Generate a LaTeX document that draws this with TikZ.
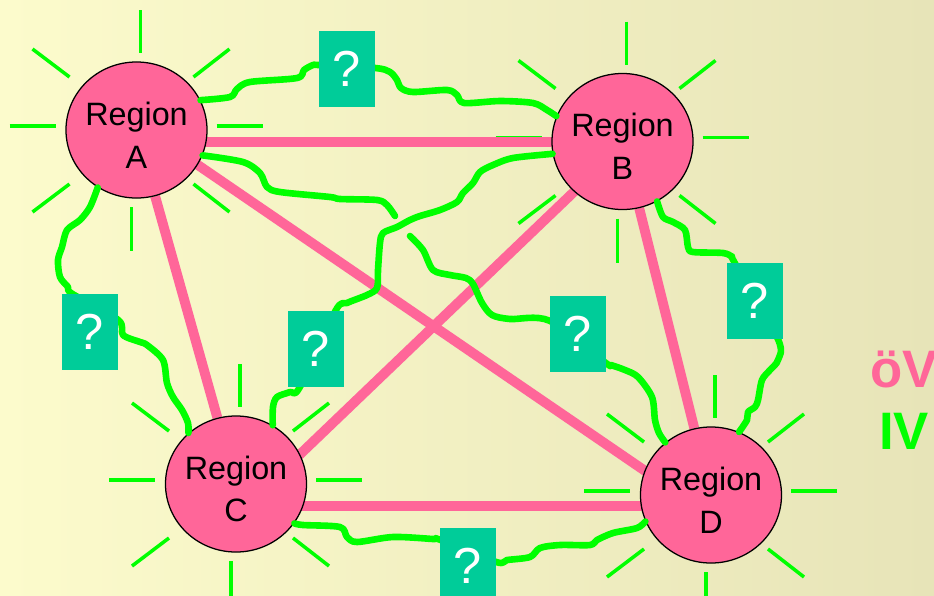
\documentclass[tikz,border=0pt]{standalone}
\usepackage{fontspec}
\setmainfont{Liberation Sans}
\usetikzlibrary{calc,shapes.geometric}
\pgfdeclarelayer{paper}
\pgfdeclarelayer{boxes}
\pgfsetlayers{paper,main,boxes}
\definecolor{RegionPink}{RGB}{255,102,153}
\definecolor{WireGreen}{RGB}{0,255,0}
\definecolor{AskTeal}{RGB}{0,204,153}
\definecolor{PaperLeft}{RGB}{252,251,204}
\definecolor{PaperRight}{RGB}{231,228,184}
\tikzset{
  region/.style={ellipse,draw=black,line width=0.9pt,fill=RegionPink,
    minimum width=3.525cm,minimum height=3.4cm,inner sep=0pt},
  regtext/.style={align=center,yshift=-3.5pt,inner sep=0pt,
    font=\fontsize{23}{30.5}\selectfont},
  askbox/.style={fill=AskTeal,text=white,minimum width=1.4cm,minimum height=1.9cm,
    inner sep=0pt,font=\fontsize{36}{40}\selectfont},
  ray/.style={draw=WireGreen,line width=2.5pt},
  link/.style={draw=RegionPink,line width=7pt},
  wire/.style={draw=WireGreen,line width=4.7pt,line cap=round,line join=round},
  modetext/.style={anchor=base,inner sep=0pt,font=\fontsize{37.5}{40}\selectfont\bfseries},
}
\newcommand{\sunrays}[1]{%
  \foreach \xa/\ya/\xb/\yb in {4/-120/4/-77,-5/77/-5/121,-127/-4/-81/-4,80/-4/126/-4,
      -104/-81/-67/-53,57/-53/93/-81,-104/82/-67/54,57/54/93/82}
    \draw[ray] ($(#1)+(\xa,\ya)$) -- ($(#1)+(\xb,\yb)$);}

\begin{document}
\begin{tikzpicture}[x=0.025cm,y=-0.025cm]
\useasboundingbox (0,0) rectangle (934,595);
\clip (0,0) rectangle (934,595);
\node[region,label={[regtext]center:Region\\A}] (A) at (136.5,130) {};
\node[region,label={[regtext]center:Region\\B}] (B) at (622.5,141.5) {};
\node[region,label={[regtext]center:Region\\C}] (C) at (236,484) {};
\node[region,label={[regtext]center:Region\\D}] (D) at (711,495) {};

\begin{pgfonlayer}{boxes}
\clip (0,0) rectangle (934,595);
\node[askbox] (qAB) at (347,69) {?};
\node[askbox] (qAC) at (90,332) {?};
\node[askbox] (qBC) at (316,349) {?};
\node[askbox] (qAD) at (578,334) {?};
\node[askbox] (qBD) at (755,301) {?};
\node[askbox] (qCD) at (468,566) {?};
\end{pgfonlayer}

\begin{pgfonlayer}{paper}
\clip (0,0) rectangle (934,595);
\shade[left color=PaperLeft,right color=PaperRight] (0,0) rectangle (934,595);
\sunrays{A}\sunrays{B}\sunrays{C}\sunrays{D}
\draw[link] ($(A)+(0,12)$) -- ($(B)+(0,0.5)$);
\draw[link] (A) -- (C);
\draw[link] ($(A)+(0,-7)$) -- ($(D)+(0,21)$);
\draw[link] ($(B)+(4,0)$) -- ($(C)+(33,0)$);
\draw[link] (B) -- (D);
\draw[link] ($(C)+(0,22)$) -- ($(D)+(0,11)$);
\end{pgfonlayer}

\coordinate (gapin) at (395,216);
\coordinate (gapout) at (410,236);
\draw[wire] plot[smooth,tension=0.5] coordinates {(A.25) (230,97) (237,89) (250,82) (297,78)
  (304,70) (313,65) (qAB.172) (qAB.2) (390,72) (397,80) (401,88) (413,92) (447,90) (457,95)
  (464,103) (500,101) (533,103) (547,110) (B.159)};
\draw[wire] plot[smooth,tension=0.5] coordinates {(A.339) (243,162) (260,173) (267,187)
  (280,192) (330,197) (340,199) (377,200) (387,205) (gapin)};
\draw[wire] plot[smooth,tension=0.5] coordinates {(gapout) (423,250) (433,270) (450,275)
  (466,278) (473,284) (482,303) (492,315) (510,319) (qAD.155) (qAD.314) (611,365) (625,370)
  (638,377) (652,397) (655,420) (659,433) (D.131)};
\draw[wire] plot[smooth,tension=0.5] coordinates {(B.190) (513,158) (493,165) (480,172)
  (473,183) (463,193) (457,202) (440,210) (420,216) (410,220) (397,227) (383,233) (380,243)
  (378,270) (377,288) (367,295) (347,303) (qBC.63) (qBC.247) (290,392) (277,397) (273,407)
  (C.58)};
\draw[wire] plot[smooth,tension=0.5] coordinates {(A.236) (90,207) (80,220) (67,230) (62,247)
  (58,260) (60,277) (68,287) (qAC.115) (qAC.23) (123,335) (140,342) (147,345) (163,360)
  (167,383) (173,397) (182,410) (188,423) (C.133)};
\draw[wire] plot[smooth,tension=0.5] coordinates {(B.300) (663,217) (673,222) (685,230)
  (688,247) (693,252) (723,253) (732,257) (qBD.118) (qBD.301) (778,360) (770,370) (762,380)
  (758,400) (755,407) (748,412) (747,420) (D.66)};
\draw[wire] plot[smooth,tension=0.5] coordinates {(C.326) (303,525) (340,527) (347,537)
  (357,542) (393,537) (433,539) (qCD.137) (qCD.8) (507,560) (530,557) (540,548) (560,545)
  (590,545) (597,540) (613,533) (637,528) (D.202)};

\node[modetext,text=RegionPink] (ov) at (904,387) {öV};
\node[modetext,text=WireGreen] (iv) at (904,449) {IV};
\end{tikzpicture}
\end{document}
